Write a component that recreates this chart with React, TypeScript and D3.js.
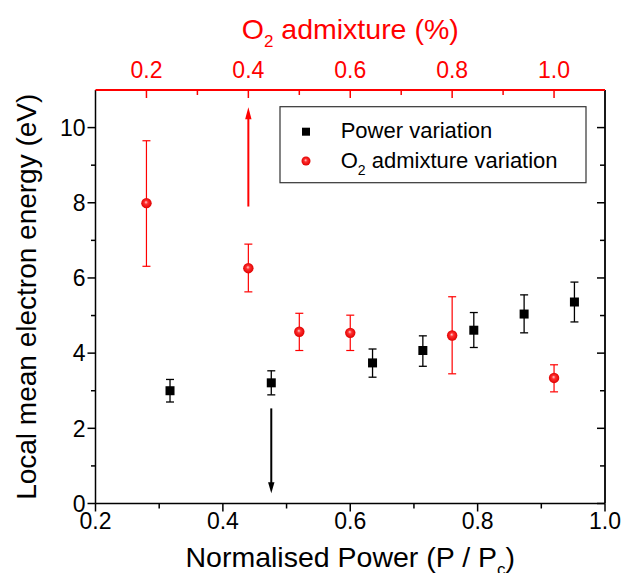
import React from "react";
import * as d3 from "d3";

// ---- data ----
const powerX = [0.317, 0.476, 0.635, 0.714, 0.794, 0.873, 0.952];
const powerY = [3.0, 3.21, 3.74, 4.07, 4.61, 5.04, 5.36];
const powerLo = [2.7, 2.89, 3.36, 3.65, 4.15, 4.54, 4.83];
const powerHi = [3.3, 3.53, 4.11, 4.46, 5.08, 5.55, 5.89];

const o2X = [0.2, 0.4, 0.5, 0.6, 0.8, 1.0];
const o2Y = [7.99, 6.26, 4.57, 4.54, 4.47, 3.34];
const o2Lo = [6.31, 5.63, 4.07, 4.07, 3.45, 2.97];
const o2Hi = [9.65, 6.9, 5.06, 5.01, 5.5, 3.69];

// arrows: [x, yFrom, yTo]
const redArrow = [0.4, 7.9, 10.54];
const blackArrow = [0.476, 2.53, 0.27];

const bottomMajor = [0.2, 0.4, 0.6, 0.8, 1.0];
const bottomMinor = [0.3, 0.5, 0.7, 0.9];
const topMajor = [0.2, 0.4, 0.6, 0.8, 1.0];
const topMinor = [0.3, 0.5, 0.7, 0.9];
const yMajor = [0, 2, 4, 6, 8, 10];
const yMinor = [1, 3, 5, 7, 9];

const W = 625;
const H = 573;
const L = 95.5, R = 605, T = 90, B = 503.5;
const FONT = "'Liberation Sans', Arial, Helvetica, sans-serif";
const RED = "#ff0000";

export default function App() {
  const xB = d3.scaleLinear().domain([0.2, 1.0]).range([L, R]);
  const xT = d3.scaleLinear().domain([0.1, 1.1]).range([L, R]);
  const y = d3.scaleLinear().domain([0, 11]).range([B, T]);
  const f1 = d3.format(".1f");

  const sq = 9;
  const cap = 4;

  return (
    <svg width={W} height={H} style={{ position: "absolute", left: 0, top: 0, background: "#fff" }} fontFamily={FONT}>
      <defs>
        <radialGradient id="ball" cx="0.5" cy="0.5" r="0.5" fx="0.45" fy="0.4">
          <stop offset="0" stopColor="#ffd0d0" />
          <stop offset="0.35" stopColor="#ff3030" />
          <stop offset="1" stopColor="#e00000" />
        </radialGradient>
      </defs>

      {/* frame */}
      <line x1={L} x2={L} y1={T} y2={B} stroke="#000" strokeWidth={1.5} />
      <line x1={R} x2={R} y1={T} y2={B} stroke="#000" strokeWidth={1.8} />
      <line x1={L} x2={R} y1={B} y2={B} stroke="#000" strokeWidth={1.5} />
      <line x1={L} x2={R} y1={T} y2={T} stroke={RED} strokeWidth={2} />

      {/* left axis ticks (outward) */}
      {yMajor.map((v) => (
        <g key={"yl" + v}>
          <line x1={L - 8} x2={L} y1={y(v)} y2={y(v)} stroke="#000" strokeWidth={1.5} />
          <text x={L - 10} y={y(v)} dy="0.36em" textAnchor="end" fontSize={23}>{v}</text>
          <line x1={R - 8} x2={R} y1={y(v)} y2={y(v)} stroke="#000" strokeWidth={1.5} />
        </g>
      ))}
      {yMinor.map((v) => (
        <g key={"ym" + v}>
          <line x1={L - 4.5} x2={L} y1={y(v)} y2={y(v)} stroke="#000" strokeWidth={1.5} />
          <line x1={R - 5} x2={R} y1={y(v)} y2={y(v)} stroke="#000" strokeWidth={1.5} />
        </g>
      ))}

      {/* bottom axis */}
      {bottomMajor.map((v) => (
        <g key={"xb" + v}>
          <line x1={xB(v)} x2={xB(v)} y1={B} y2={B + 8} stroke="#000" strokeWidth={1.5} />
          <text x={xB(v)} y={529} textAnchor="middle" fontSize={23}>{f1(v)}</text>
        </g>
      ))}
      {bottomMinor.map((v) => (
        <line key={"xbm" + v} x1={xB(v)} x2={xB(v)} y1={B} y2={B + 5} stroke="#000" strokeWidth={1.5} />
      ))}

      {/* top axis */}
      {topMajor.map((v) => (
        <g key={"xt" + v}>
          <line x1={xT(v)} x2={xT(v)} y1={T} y2={T + 8} stroke={RED} strokeWidth={1.5} />
          <text x={xT(v)} y={78} textAnchor="middle" fontSize={23} fill={RED}>{f1(v)}</text>
        </g>
      ))}
      {topMinor.map((v) => (
        <line key={"xtm" + v} x1={xT(v)} x2={xT(v)} y1={T} y2={T + 5} stroke={RED} strokeWidth={1.5} />
      ))}

      {/* titles */}
      <text x={(L + R) / 2} y={39} textAnchor="middle" fontSize={28.5} fill={RED}>
        O<tspan fontSize={17} dy={8}>2</tspan><tspan dy={-8}> admixture (%)</tspan>
      </text>
      <text x={(L + R) / 2} y={567} textAnchor="middle" fontSize={28.5}>
        Normalised Power (P / P<tspan fontSize={17} dy={8}>c</tspan><tspan dy={-8}>)</tspan>
      </text>
      <text transform={`translate(36, ${(T + B) / 2}) rotate(-90)`} textAnchor="middle" fontSize={28}>
        Local mean electron energy (eV)
      </text>

      {/* arrows */}
      <g>
        <line x1={xT(redArrow[0])} x2={xT(redArrow[0])} y1={y(redArrow[1])} y2={y(redArrow[2]) + 10} stroke={RED} strokeWidth={2} />
        <path d={`M${xT(redArrow[0])},${y(redArrow[2])} l-3.2,12 l6.4,0 z`} fill={RED} />
        <line x1={xB(blackArrow[0])} x2={xB(blackArrow[0])} y1={y(blackArrow[1])} y2={y(blackArrow[2]) - 9} stroke="#000" strokeWidth={2} />
        <path d={`M${xB(blackArrow[0])},${y(blackArrow[2])} l-3.2,-11 l6.4,0 z`} fill="#000" />
      </g>

      {/* power variation */}
      {powerX.map((xv, i) => {
        const cx = xB(xv);
        return (
          <g key={"p" + i}>
            <line x1={cx} x2={cx} y1={y(powerLo[i])} y2={y(powerHi[i])} stroke="#000" strokeWidth={1.3} />
            <line x1={cx - cap} x2={cx + cap} y1={y(powerLo[i])} y2={y(powerLo[i])} stroke="#000" strokeWidth={1.3} />
            <line x1={cx - cap} x2={cx + cap} y1={y(powerHi[i])} y2={y(powerHi[i])} stroke="#000" strokeWidth={1.3} />
            <rect x={cx - sq / 2} y={y(powerY[i]) - sq / 2} width={sq} height={sq} fill="#000" />
          </g>
        );
      })}

      {/* O2 admixture variation */}
      {o2X.map((xv, i) => {
        const cx = xT(xv);
        return (
          <g key={"o" + i}>
            <line x1={cx} x2={cx} y1={y(o2Lo[i])} y2={y(o2Hi[i])} stroke={RED} strokeWidth={1.2} />
            <line x1={cx - cap} x2={cx + cap} y1={y(o2Lo[i])} y2={y(o2Lo[i])} stroke={RED} strokeWidth={1.2} />
            <line x1={cx - cap} x2={cx + cap} y1={y(o2Hi[i])} y2={y(o2Hi[i])} stroke={RED} strokeWidth={1.2} />
            <circle cx={cx} cy={y(o2Y[i])} r={5.2} fill="url(#ball)" />
          </g>
        );
      })}

      {/* legend */}
      <rect x={280} y={106.7} width={306} height={76} fill="#fff" stroke="#333" strokeWidth={1.2} />
      <rect x={306 - 4} y={131.7 - 4} width={8} height={8} fill="#000" />
      <text x={340.7} y={138.3} fontSize={22}>Power variation</text>
      <circle cx={306} cy={161} r={4.5} fill="url(#ball)" />
      <text x={340.7} y={168.3} fontSize={22}>
        O<tspan fontSize={14} dy={7}>2</tspan><tspan dy={-7}> admixture variation</tspan>
      </text>
    </svg>
  );
}
